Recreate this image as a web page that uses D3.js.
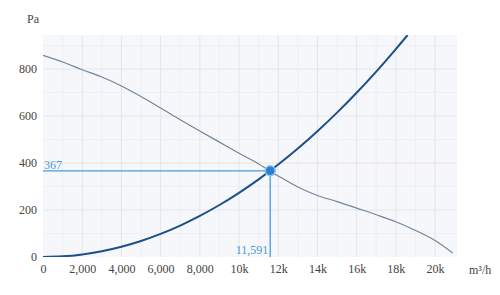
<!DOCTYPE html>
<html>
<head>
<meta charset="utf-8">
<script src="https://cdn.jsdelivr.net/npm/d3@7"></script>
<style>
  body { margin: 0; background: #fff; }
  text { font-family: "Liberation Serif", serif; }
</style>
</head>
<body>
<div class="container"></div>
<script>
const w = 500;
const h = 295;
const margin = {top: 35, right: 43, bottom: 38, left: 43};

// fan curve (flow m3/h, pressure Pa)
const fanFlow = [0, 1000, 2000, 3000, 4000, 5000, 6000, 7000, 8000, 9000, 10000, 11000, 12000, 13000, 14000, 15000, 16000, 17000, 18000, 19000, 20000, 20900];
const fanPressure = [858, 830, 797, 766, 728, 683, 634, 584, 536, 489, 442, 396, 345, 298, 262, 236, 208, 180, 150, 113, 70, 17];

// system curve
const sysFlow = [0, 1000, 2000, 3000, 4000, 5000, 6000, 7000, 8000, 9000, 10000, 11000, 12000, 13000, 14000, 15000, 16000, 17000, 18000, 18600];
const sysPressure = [0, 2.7, 10.9, 24.6, 43.7, 68.3, 98.3, 133.8, 174.8, 221.3, 273.2, 330.5, 393.4, 461.6, 535.4, 614.6, 699.3, 789.4, 885.0, 945];

// operating point
const opFlow = 11591;
const opPressure = 367;

const xTicks = [0, 2000, 4000, 6000, 8000, 10000, 12000, 14000, 16000, 18000, 20000];
const xTickLabels = ["0", "2,000", "4,000", "6,000", "8,000", "10k", "12k", "14k", "16k", "18k", "20k"];
const yTicks = [0, 200, 400, 600, 800];

const svg = d3.select(".container")
          .append("svg")
          .attr("width", w)
          .attr("height", h);

const xScale = d3.scaleLinear()
                 .domain([0, 21120])
                 .range([margin.left, w - margin.right]);

const yScale = d3.scaleLinear()
                 .domain([0, 945])
                 .range([h - margin.bottom, margin.top]);

svg.append("rect")
   .attr("x", margin.left)
   .attr("y", margin.top)
   .attr("width", w - margin.left - margin.right)
   .attr("height", h - margin.top - margin.bottom)
   .attr("fill", "#f5f7fa");

// minor grid
const xMinor = d3.range(1000, 21000, 2000);
const yMinor = d3.range(100, 945, 200);
svg.append("g").selectAll("line")
   .data(xMinor).enter().append("line")
   .attr("x1", d => xScale(d)).attr("x2", d => xScale(d))
   .attr("y1", margin.top).attr("y2", h - margin.bottom)
   .attr("stroke", "#edf0f4");
svg.append("g").selectAll("line")
   .data(yMinor).enter().append("line")
   .attr("y1", d => yScale(d)).attr("y2", d => yScale(d))
   .attr("x1", margin.left).attr("x2", w - margin.right)
   .attr("stroke", "#edf0f4");

// major grid
svg.append("g").selectAll("line")
   .data(xTicks.slice(1)).enter().append("line")
   .attr("x1", d => xScale(d)).attr("x2", d => xScale(d))
   .attr("y1", margin.top).attr("y2", h - margin.bottom)
   .attr("stroke", "#e2e6ec");
svg.append("g").selectAll("line")
   .data(yTicks.slice(1)).enter().append("line")
   .attr("y1", d => yScale(d)).attr("y2", d => yScale(d))
   .attr("x1", margin.left).attr("x2", w - margin.right)
   .attr("stroke", d => d === 400 ? "#ede3dc" : "#e2e6ec");

// axes
const xAxis = d3.axisBottom(xScale)
                .tickValues(xTicks)
                .tickFormat((d, i) => xTickLabels[i])
                .tickSize(0)
                .tickPadding(7);
svg.append("g")
   .attr("id", "x-axis")
   .attr("transform", "translate(0," + (h - margin.bottom) + ")")
   .call(xAxis)
   .call(g => g.select(".domain").remove())
   .selectAll("text")
   .attr("font-size", 12)
   .attr("fill", "#444");

const yAxis = d3.axisLeft(yScale)
                .tickValues(yTicks)
                .tickSize(0)
                .tickPadding(6);
svg.append("g")
   .attr("id", "y-axis")
   .attr("transform", "translate(" + margin.left + ",0)")
   .call(yAxis)
   .call(g => g.select(".domain").remove())
   .selectAll("text")
   .attr("font-size", 12)
   .attr("fill", "#444");

svg.append("text")
   .attr("x", 27)
   .attr("y", 23)
   .attr("font-size", 12)
   .attr("fill", "#444")
   .text("Pa");

svg.append("text")
   .attr("x", 469)
   .attr("y", 274)
   .attr("font-size", 12)
   .attr("fill", "#444")
   .text("m³/h");

svg.append("clipPath").attr("id", "plot-clip")
   .append("rect")
   .attr("x", margin.left)
   .attr("y", margin.top)
   .attr("width", w - margin.left - margin.right)
   .attr("height", h - margin.top - margin.bottom);

const line = d3.line()
               .x(d => xScale(d[0]))
               .y(d => yScale(d[1]))
               .curve(d3.curveMonotoneX);

// fan curve
svg.append("path")
   .datum(fanFlow.map((f, i) => [f, fanPressure[i]]))
   .attr("d", line)
   .attr("fill", "none")
   .attr("stroke", "#72869d")
   .attr("stroke-width", 1.2);

// system curve
svg.append("path")
   .datum(sysFlow.map((f, i) => [f, sysPressure[i]]))
   .attr("clip-path", "url(#plot-clip)")
   .attr("d", line)
   .attr("fill", "none")
   .attr("stroke", "#1d4f88")
   .attr("stroke-width", 2);

// operating point guides
const opColor = "#4a9ad8";
svg.append("line")
   .attr("x1", xScale(0)).attr("x2", xScale(opFlow))
   .attr("y1", yScale(opPressure)).attr("y2", yScale(opPressure))
   .attr("stroke", opColor).attr("stroke-width", 1.3);
svg.append("line")
   .attr("x1", xScale(opFlow)).attr("x2", xScale(opFlow))
   .attr("y1", yScale(opPressure)).attr("y2", yScale(0))
   .attr("stroke", opColor).attr("stroke-width", 1.3);

svg.append("text")
   .attr("x", xScale(0) + 1)
   .attr("y", yScale(opPressure) - 2)
   .attr("font-size", 12)
   .attr("fill", opColor)
   .text(d3.format(",")(opPressure));

svg.append("text")
   .attr("x", xScale(opFlow) - 2)
   .attr("y", yScale(0) - 3)
   .attr("text-anchor", "end")
   .attr("font-size", 12)
   .attr("fill", opColor)
   .text(d3.format(",")(opFlow));

svg.append("circle")
   .attr("cx", xScale(opFlow))
   .attr("cy", yScale(opPressure))
   .attr("r", 5)
   .attr("fill", "#2a7fd0")
   .attr("stroke", "#8cc0ea")
   .attr("stroke-width", 1.5);
</script>
</body>
</html>
